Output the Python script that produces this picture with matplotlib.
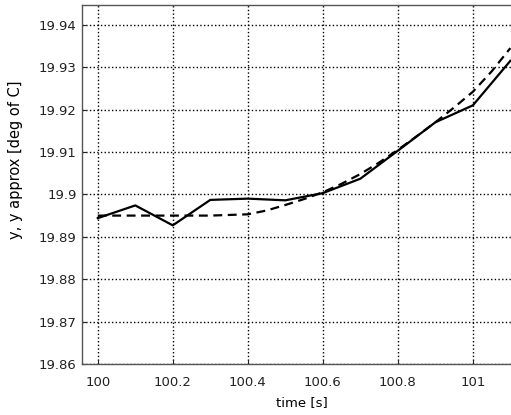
import numpy as np
import matplotlib
matplotlib.use("Agg")
import matplotlib.pyplot as plt

t_meas = [100.0, 100.1, 100.2, 100.3, 100.4, 100.5, 100.6, 100.7, 100.8, 100.9, 101.0, 101.1]
y_meas = [19.8944, 19.8974, 19.8927, 19.8987, 19.8990, 19.8986, 19.9003, 19.9037, 19.9103, 19.9170, 19.9210, 19.9315]

t_appr = [100.0, 100.1, 100.2, 100.3, 100.4, 100.45, 100.5, 100.55, 100.6, 100.65, 100.7,
          100.75, 100.8, 100.85, 100.9, 100.95, 101.0, 101.05, 101.1]
y_appr = [19.8950, 19.8950, 19.8950, 19.8950, 19.8953, 19.8962, 19.8975, 19.8989, 19.9005,
          19.9025, 19.9048, 19.9075, 19.9105, 19.9137, 19.9170, 19.9205, 19.9242, 19.9290, 19.9345]

xticks = [100, 100.2, 100.4, 100.6, 100.8, 101]
xticklabels = ["100", "100.2", "100.4", "100.6", "100.8", "101"]
yticks = [19.86, 19.87, 19.88, 19.89, 19.9, 19.91, 19.92, 19.93, 19.94]
yticklabels = ["19.86", "19.87", "19.88", "19.89", "19.9", "19.91", "19.92", "19.93", "19.94"]

plt.rcParams['font.family'] = ['DejaVu Sans']

fig = plt.figure(figsize=(5.11, 4.15), dpi=100)
# axes runs a bit past the right edge, like the cropped original
ax = fig.add_axes([0.1605, 0.1229, 0.861, 0.8654])

ax.plot(t_meas, y_meas, '-', color='black', lw=1.6)
ax.plot(t_appr, y_appr, '--', color='black', lw=1.6, dashes=(4, 2.5))

ax.set_xlim(99.958, 101.131)
ax.set_ylim(19.86, 19.9447)
ax.set_xticks(xticks)
ax.set_xticklabels(xticklabels)
ax.set_yticks(yticks)
ax.set_yticklabels(yticklabels)

ax.grid(True, linestyle=':', color='black', lw=1.0)
ax.tick_params(direction='in', labelsize=9.5, length=3, colors='#222222')
ax.tick_params(axis='x', pad=9)
ax.tick_params(axis='y', pad=4)
for s in ax.spines.values():
    s.set_color('#555555')
    s.set_linewidth(1.0)

ax.set_xlabel("time [s]", fontsize=9.5)
ax.set_ylabel("y, y approx [deg of C]", fontsize=10.5)
ax.xaxis.set_label_coords((302 - 82) / 440.0, -(396 - 364) / 359.0)
ax.yaxis.set_label_coords(-(82 - 23) / 440.0, (364 - 160) / 359.0)

fig.savefig("out.png", dpi=100)
